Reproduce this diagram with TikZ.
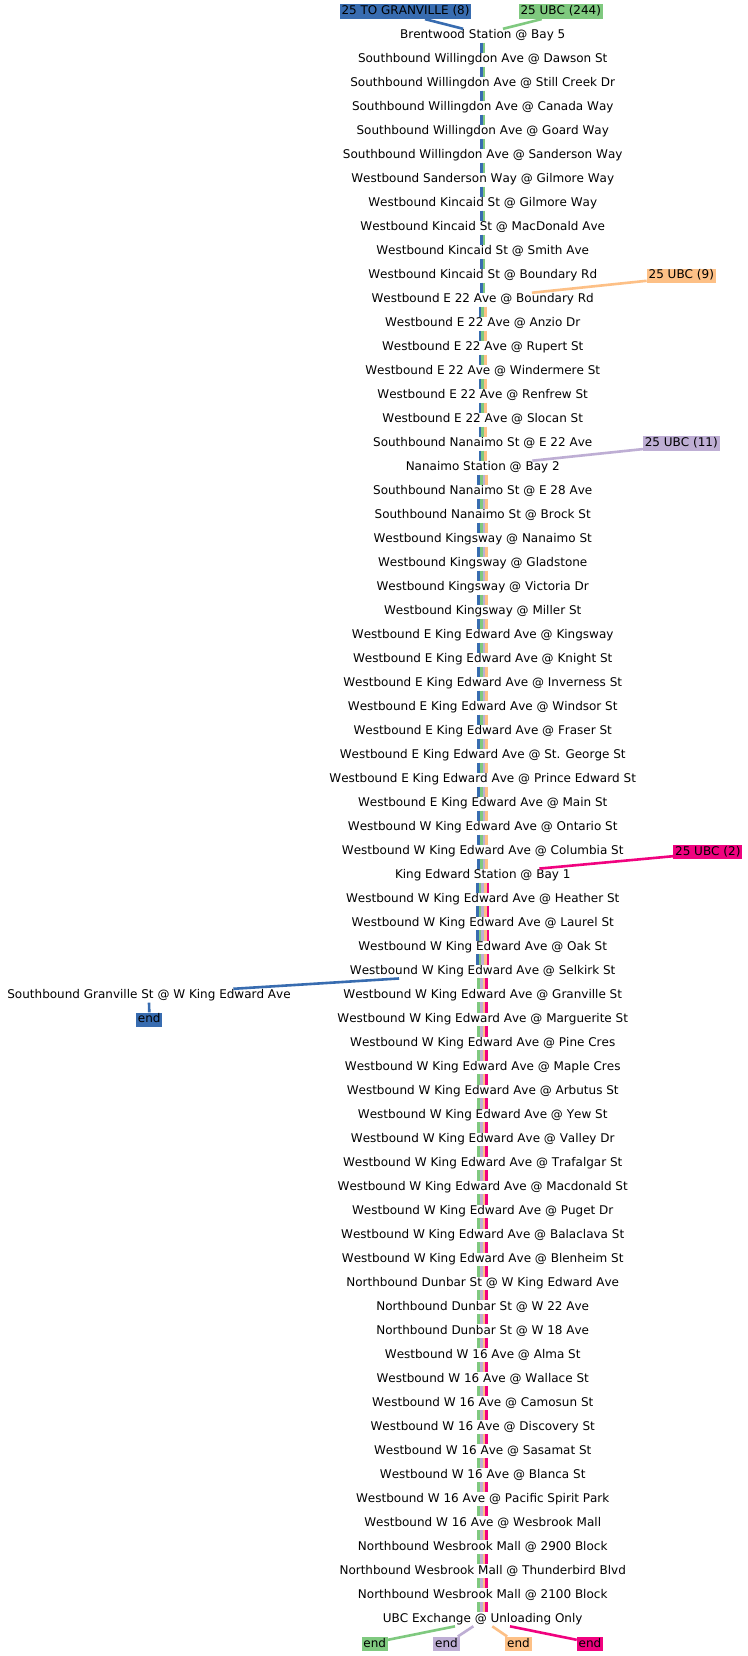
\documentclass[tikz,border=0pt]{standalone}
\usepackage{fontspec}
\setmainfont{DejaVu Sans}[Kerning=Off]
\usetikzlibrary{calc}
\definecolor{cblue}{HTML}{386CB0}
\definecolor{cgreen}{HTML}{7FC97F}
\definecolor{cpurple}{HTML}{BEAED4}
\definecolor{corange}{HTML}{FDC086}
\definecolor{cpink}{HTML}{F0027F}
\begin{document}
\begin{tikzpicture}[x=1pt,y=-1pt,
 every node/.style={font=\fontsize{12pt}{14pt}\selectfont, text=black},
 stop/.style={anchor=base, text height=9.4pt, text depth=3.1pt, inner xsep=1pt, inner ysep=0.5pt},
 lab/.style={inner xsep=1.8pt, inner ysep=0pt, minimum height=14.4pt, text height=8.75pt, text depth=2.4pt},
 seg/.style={line width=2.67pt},
 conn/.style={line width=2.6pt}]
\fill[white] (0,0) rectangle (747,1656);
\useasboundingbox (0,0) rectangle (747,1656);
\foreach \i/\t in {
1/Brentwood Station @ Bay 5,
2/Southbound Willingdon Ave @ Dawson St,
3/Southbound Willingdon Ave @ Still Creek Dr,
4/Southbound Willingdon Ave @ Canada Way,
5/Southbound Willingdon Ave @ Goard Way,
6/Southbound Willingdon Ave @ Sanderson Way,
7/Westbound Sanderson Way @ Gilmore Way,
8/Westbound Kincaid St @ Gilmore Way,
9/Westbound Kincaid St @ MacDonald Ave,
10/Westbound Kincaid St @ Smith Ave,
11/Westbound Kincaid St @ Boundary Rd,
12/Westbound E 22 Ave @ Boundary Rd,
13/Westbound E 22 Ave @ Anzio Dr,
14/Westbound E 22 Ave @ Rupert St,
15/Westbound E 22 Ave @ Windermere St,
16/Westbound E 22 Ave @ Renfrew St,
17/Westbound E 22 Ave @ Slocan St,
18/Southbound Nanaimo St @ E 22 Ave,
19/Nanaimo Station @ Bay 2,
20/Southbound Nanaimo St @ E 28 Ave,
21/Southbound Nanaimo St @ Brock St,
22/Westbound Kingsway @ Nanaimo St,
23/Westbound Kingsway @ Gladstone,
24/Westbound Kingsway @ Victoria Dr,
25/Westbound Kingsway @ Miller St,
26/Westbound E King Edward Ave @ Kingsway,
27/Westbound E King Edward Ave @ Knight St,
28/Westbound E King Edward Ave @ Inverness St,
29/Westbound E King Edward Ave @ Windsor St,
30/Westbound E King Edward Ave @ Fraser St,
31/Westbound E King Edward Ave @ St. George St,
32/Westbound E King Edward Ave @ Prince Edward St,
33/Westbound E King Edward Ave @ Main St,
34/Westbound W King Edward Ave @ Ontario St,
35/Westbound W King Edward Ave @ Columbia St,
36/King Edward Station @ Bay 1,
37/Westbound W King Edward Ave @ Heather St,
38/Westbound W King Edward Ave @ Laurel St,
39/Westbound W King Edward Ave @ Oak St,
40/Westbound W King Edward Ave @ Selkirk St,
41/Westbound W King Edward Ave @ Granville St,
42/Westbound W King Edward Ave @ Marguerite St,
43/Westbound W King Edward Ave @ Pine Cres,
44/Westbound W King Edward Ave @ Maple Cres,
45/Westbound W King Edward Ave @ Arbutus St,
46/Westbound W King Edward Ave @ Yew St,
47/Westbound W King Edward Ave @ Valley Dr,
48/Westbound W King Edward Ave @ Trafalgar St,
49/Westbound W King Edward Ave @ Macdonald St,
50/Westbound W King Edward Ave @ Puget Dr,
51/Westbound W King Edward Ave @ Balaclava St,
52/Westbound W King Edward Ave @ Blenheim St,
53/Northbound Dunbar St @ W King Edward Ave,
54/Northbound Dunbar St @ W 22 Ave,
55/Northbound Dunbar St @ W 18 Ave,
56/Westbound W 16 Ave @ Alma St,
57/Westbound W 16 Ave @ Wallace St,
58/Westbound W 16 Ave @ Camosun St,
59/Westbound W 16 Ave @ Discovery St,
60/Westbound W 16 Ave @ Sasamat St,
61/Westbound W 16 Ave @ Blanca St,
62/Westbound W 16 Ave @ Pacific Spirit Park,
63/Westbound W 16 Ave @ Wesbrook Mall,
64/Northbound Wesbrook Mall @ 2900 Block,
65/Northbound Wesbrook Mall @ Thunderbird Blvd,
66/Northbound Wesbrook Mall @ 2100 Block,
67/UBC Exchange @ Unloading Only}
 \node[stop] (s\i) at (482.7, {38.9+23.994*(\i-1)}) {\t};
% segments
\foreach \i in {1,...,11}{\pgfmathtruncatemacro\j{\i+1}
 \foreach \c/\o in {cblue/-1.335pt,cgreen/1.335pt}
  \draw[seg,\c] ([xshift=\o]s\i.south) -- ([xshift=\o]s\j.north);}
\foreach \i in {12,...,18}{\pgfmathtruncatemacro\j{\i+1}
 \foreach \c/\o in {cblue/-2.67pt,cgreen/0pt,corange/2.67pt}
  \draw[seg,\c] ([xshift=\o]s\i.south) -- ([xshift=\o]s\j.north);}
\foreach \i in {19,...,35}{\pgfmathtruncatemacro\j{\i+1}
 \foreach \c/\o in {cblue/-4.005pt,cgreen/-1.335pt,cpurple/1.335pt,corange/4.005pt}
  \draw[seg,\c] ([xshift=\o]s\i.south) -- ([xshift=\o]s\j.north);}
\foreach \i in {36,...,39}{\pgfmathtruncatemacro\j{\i+1}
 \foreach \c/\o in {cblue/-5.34pt,cgreen/-2.67pt,cpurple/0pt,corange/2.67pt,cpink/5.34pt}
  \draw[seg,\c] ([xshift=\o]s\i.south) -- ([xshift=\o]s\j.north);}
\foreach \i in {40,...,66}{\pgfmathtruncatemacro\j{\i+1}
 \foreach \c/\o in {cgreen/-4.005pt,cpurple/-1.335pt,corange/1.335pt,cpink/4.005pt}
  \draw[seg,\c] ([xshift=\o]s\i.south) -- ([xshift=\o]s\j.north);}
% route labels
\node[lab,fill=cblue] (labA) at (405.5,11.7) {25 TO GRANVILLE (8)};
\node[lab,fill=cgreen] (labB) at (560.8,11.7) {25 UBC (244)};
\node[lab,fill=corange] (labC) at (681.3,275.8) {25 UBC (9)};
\node[lab,fill=cpurple] (labD) at (681.3,443.5) {25 UBC (11)};
\node[lab,fill=cpink] (labE) at (707.8,852) {25 UBC (2)};
% branch
\node[stop] (g1) at (149,998.9) {Southbound Granville St @ W King Edward Ave};
\node[lab,fill=cblue] (endA) at (149.3,1019.7) {end};
\node[lab,fill=cgreen] (endG) at (374.7,1643.9) {end};
\node[lab,fill=cpurple] (endP) at (446.5,1643.9) {end};
\node[lab,fill=corange] (endO) at (518.5,1643.9) {end};
\node[lab,fill=cpink] (endK) at (590,1643.9) {end};
% connectors
\draw[conn,cblue] ($(labA.south)+(19.5,0)$) -- ($(s1.north)+(-19.7,0)$);
\draw[conn,cgreen] ($(labB.south)+(-19.1,0)$) -- ($(s1.north)+(20.3,0)$);
\draw[conn,corange] ($(labC.south west)+(0,-2.4)$) -- ($(s12.north)+(49.3,0)$);
\draw[conn,cpurple] ($(labD.south west)+(0,-1.8)$) -- ($(s19.north)+(49.6,0)$);
\draw[conn,cpink] ($(labE.south west)+(0,-3.2)$) -- ($(s36.north)+(56.6,0)$);
\draw[conn,cblue] ($(s40.south)+(-83.7,0)$) -- ($(g1.north)+(84.3,0)$);
\draw[conn,cblue] (g1.south) -- (endA.north);
\draw[conn,cgreen] ($(s67.south)+(-27.7,0)$) -- ($(endG.north east)+(0,3.3)$);
\draw[conn,cpurple] ($(s67.south)+(-9.4,0)$) -- ($(endP.north east)+(-2,0)$);
\draw[conn,corange] ($(s67.south)+(9.6,0)$) -- ($(endO.north west)+(2,0)$);
\draw[conn,cpink] ($(s67.south)+(27.3,0)$) -- ($(endK.north west)+(0,3.3)$);
\end{tikzpicture}
\end{document}
